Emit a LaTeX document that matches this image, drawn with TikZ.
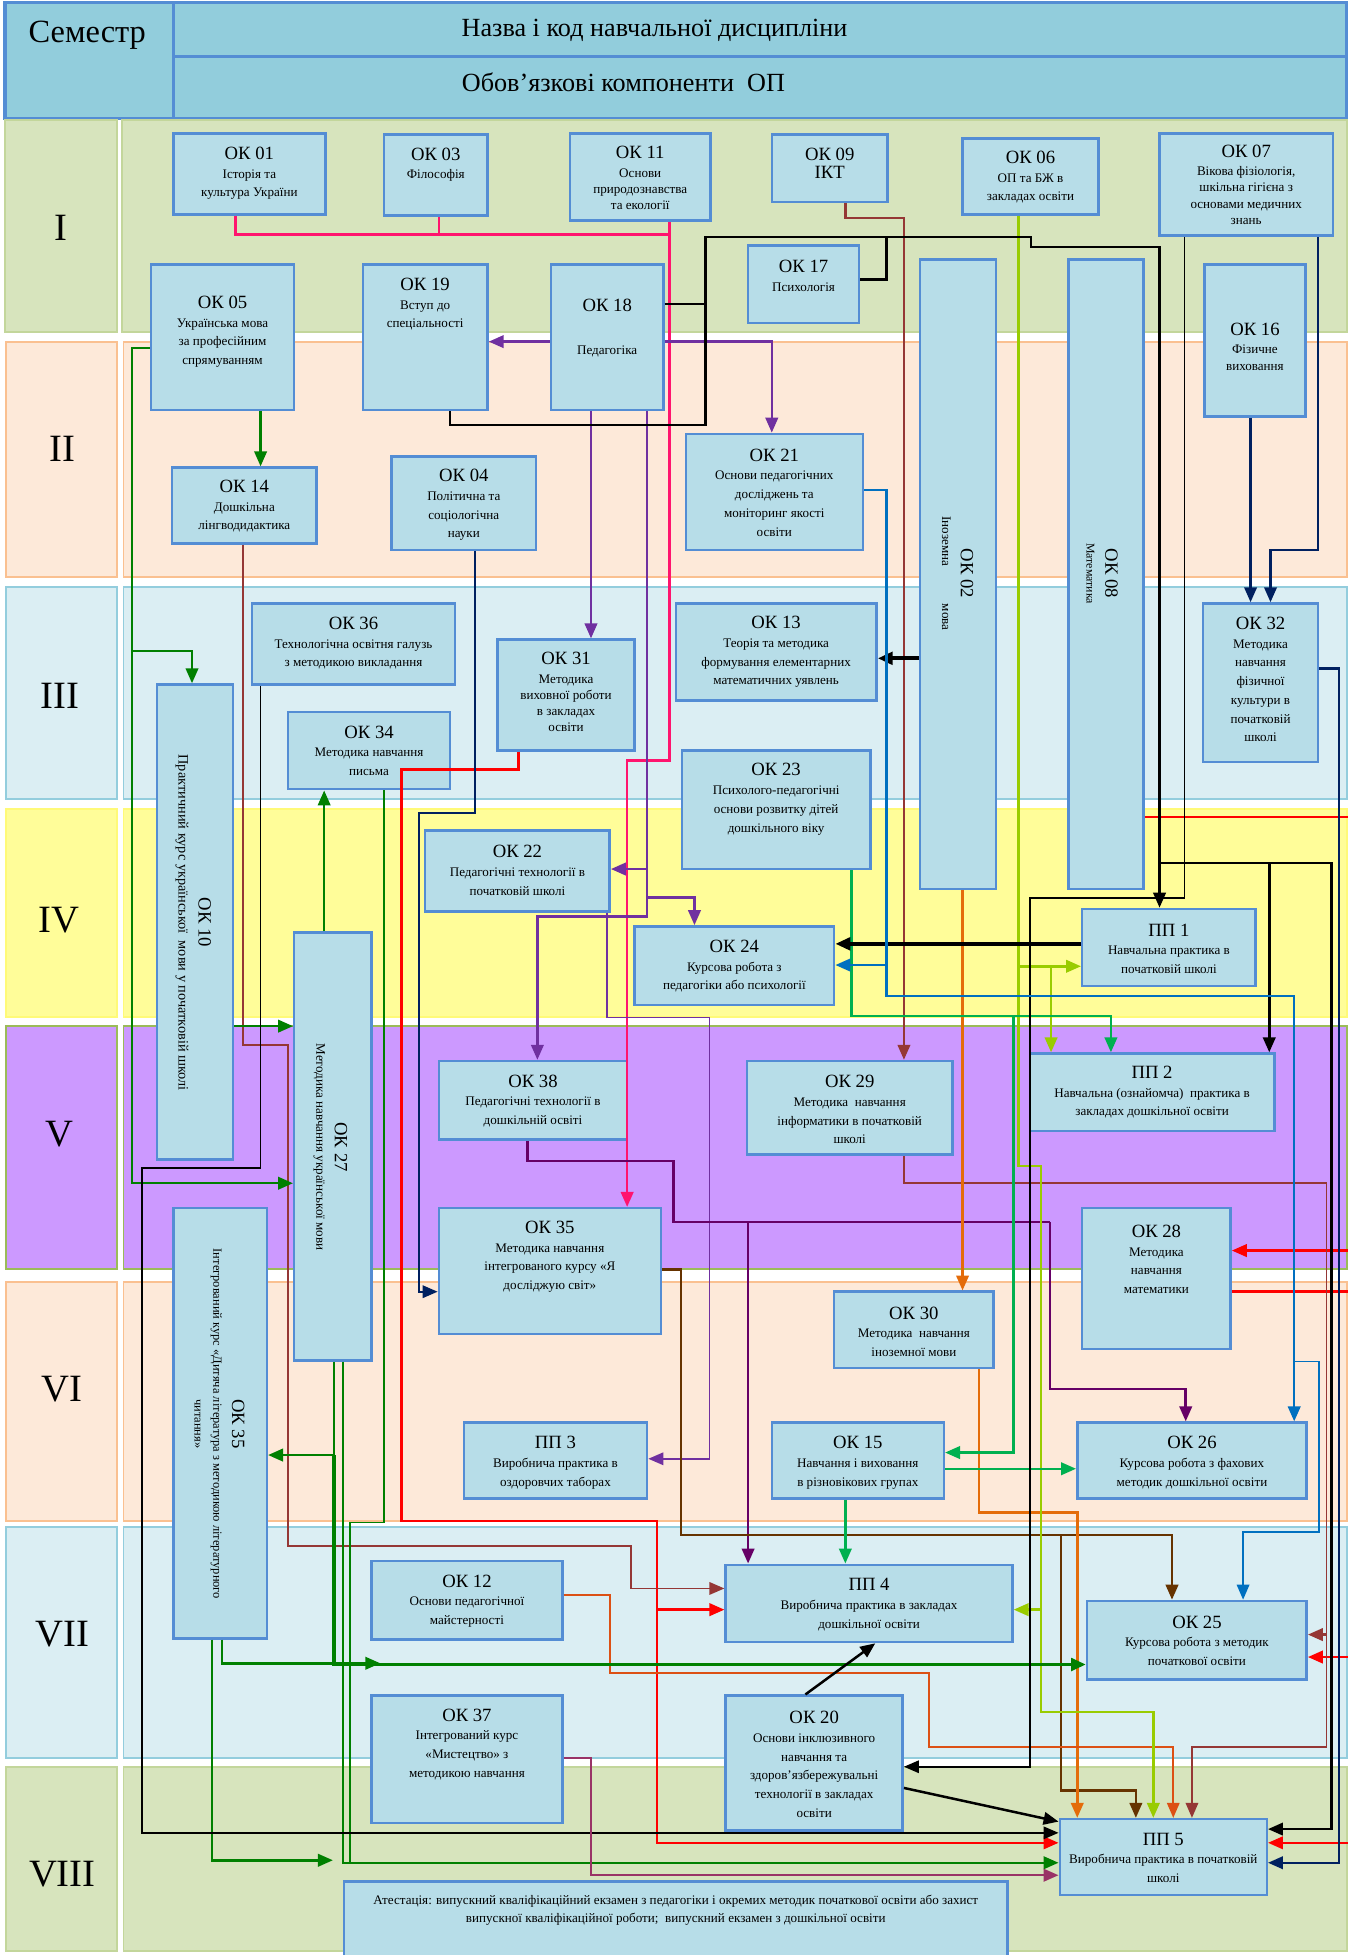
\documentclass[tikz,border=0pt]{standalone}
\usepackage{fontspec}
\setmainfont{Liberation Serif}
\usetikzlibrary{arrows.meta,fit}
\definecolor{boxfill}{RGB}{183,221,232}
\definecolor{boxline}{RGB}{84,141,212}
\definecolor{hdrfill}{RGB}{146,205,220}
\definecolor{bgI}{RGB}{215,228,189}\definecolor{bgIb}{RGB}{195,214,155}
\definecolor{bgII}{RGB}{253,233,217}\definecolor{bgIIb}{RGB}{250,192,144}
\definecolor{bgIII}{RGB}{219,238,243}\definecolor{bgIIIb}{RGB}{147,205,221}
\definecolor{bgIV}{RGB}{255,253,153}\definecolor{bgIVb}{RGB}{255,250,120}
\definecolor{bgV}{RGB}{204,153,255}\definecolor{bgVb}{RGB}{155,187,89}
\definecolor{cpink}{RGB}{255,20,110}
\definecolor{cred}{RGB}{255,0,0}
\definecolor{cpurp}{RGB}{112,48,160}
\definecolor{cdpurp}{RGB}{102,0,102}
\definecolor{cbrn}{RGB}{149,55,53}
\definecolor{cdbrn}{RGB}{102,51,0}
\definecolor{corng}{RGB}{228,108,10}
\definecolor{corred}{RGB}{220,80,20}
\definecolor{cygrn}{RGB}{153,204,0}
\definecolor{cgrn}{RGB}{0,176,80}
\definecolor{cdgrn}{RGB}{0,128,0}
\definecolor{cnavy}{RGB}{0,32,96}
\definecolor{cblu}{RGB}{0,112,192}
\definecolor{cplum}{RGB}{153,51,102}
\newcommand\hd[1]{{\fontsize{15}{17}\selectfont #1}}
\newcommand\bx[7]{\node[box, fit={(#2,#3) (#4,#5)}] (#1) {};\node[txt] (#1-t) at ({(#2+#4)/2},#6) {#7};}
\begin{document}
\begin{tikzpicture}[x=1pt,y=-1pt,
  box/.style={draw=boxline, fill=boxfill, line width=2pt, inner sep=0pt},
  txt/.style={font=\fontsize{10.5}{15}\selectfont, align=center, inner sep=0pt},
  sem/.style={font=\fontsize{31}{33}\selectfont, inner sep=0pt},
  c/.style={line width=2pt},
  c1/.style={line width=1.4pt},
  c3/.style={line width=3pt},
  >={Triangle[length=12pt,width=10pt]}]
\useasboundingbox (0,0) rectangle (1081,1568);
% header
\filldraw[fill=hdrfill, draw=boxline, line width=2.5pt] (4,2) rectangle (1080,95);
\draw[boxline, line width=2.5pt] (139,2) -- (139,95) (139,45) -- (1080,45);
\node[inner sep=0pt, font=\fontsize{26}{28}\selectfont] (hsem) at (70,28) {Семестр};
\node[inner sep=0pt, font=\fontsize{21}{23}\selectfont] (hname) at (525,24) {Назва і код навчальної дисципліни};
\node[inner sep=0pt, font=\fontsize{21}{23}\selectfont] (hcomp) at (500,66) {Обов’язкові компоненти\ \ ОП};
% bands
\tikzset{bandI/.style={fill=bgI, draw=bgIb, line width=1.5pt},
 bandII/.style={fill=bgII, draw=bgIIb, line width=1.5pt},
 bandIII/.style={fill=bgIII, draw=bgIIIb, line width=1.5pt},
 bandIV/.style={fill=bgIV, draw=bgIVb, line width=1.5pt},
 bandV/.style={fill=bgV, draw=bgVb, line width=1.5pt}}
\filldraw[bandI] (4,96) rectangle (94,266); \filldraw[bandI] (98,96) rectangle (1080,266);
\filldraw[bandII] (5,274) rectangle (94,463); \filldraw[bandII] (99,274) rectangle (1080,463);
\filldraw[bandIII] (5,471) rectangle (94,641); \filldraw[bandIII] (99,471) rectangle (1080,641);
\filldraw[bandIV] (5,649) rectangle (94,816); \filldraw[bandIV] (99,649) rectangle (1080,816);
\filldraw[bandV] (5,823) rectangle (94,1018); \filldraw[bandV] (99,823) rectangle (1080,1018);
\filldraw[bandII] (5,1028) rectangle (94,1220); \filldraw[bandII] (99,1028) rectangle (1080,1220);
\filldraw[bandIII] (5,1225) rectangle (94,1410); \filldraw[bandIII] (99,1225) rectangle (1080,1410);
\filldraw[bandI] (5,1417) rectangle (94,1565); \filldraw[bandI] (99,1417) rectangle (1080,1565);
\node[sem] (s1) at (49,183) {I};
\node[sem] (s2) at (50,360) {II};
\node[sem] (s3) at (48,558) {III};
\node[sem] (s4) at (47,738) {IV};
\node[sem] (s5) at (48,910) {V};
\node[sem] (s6) at (50,1114) {VI};
\node[sem] (s7) at (50,1311) {VII};
\node[sem] (s8) at (50,1503) {VIII};
% boxes
\bx{ok01}{139}{107}{261}{172}{139}{\hd{ОК 01}\\Історія та\\культура України}
\bx{ok03}{308}{108}{391}{173}{132}{\hd{ОК 03}\\Філософія}
\bx{ok11}{457}{107}{570}{177}{143}{\hd{ОК 11}\\Основи\\[-2pt]природознавства\\[-2pt]та екології}
\bx{ok09}{619}{108}{712}{162}{131}{\hd{ОК 09}\\\hd{ІКТ}}
\bx{ok06}{772}{111}{881}{172}{142}{\hd{ОК 06}\\ОП та БЖ в\\закладах освіти}
\bx{ok07}{930}{107}{1069}{189}{148}{\hd{ОК 07}\\Вікова фізіологія,\\[-2pt]шкільна гігієна з\\[-2pt]основами медичних\\[-2pt]знань}
\bx{ok17}{600}{197}{689}{259}{221}{\hd{ОК 17}\\Психологія}
\bx{ok05}{121}{212}{236}{329}{266}{\hd{ОК 05}\\Українська мова\\за професійним\\спрямуванням}
\bx{ok19}{291}{212}{391}{329}{244}{\hd{ОК 19}\\Вступ до\\спеціальності}
\bx{ok18}{442}{212}{532}{329}{263}{\hd{ОК 18}\\[19pt]Педагогіка}
\bx{ok16}{966}{212}{1047}{334}{278}{\hd{ОК 16}\\Фізичне\\[-2pt]виховання}
\bx{ok14}{138}{375}{254}{436}{406}{\hd{ОК 14}\\Дошкільна\\лінгводидактика}
\bx{ok04}{314}{366}{430}{441}{405}{\hd{ОК 04}\\Політична та\\соціологічна\\науки}
\bx{ok21}{550}{348}{692}{441}{395}{\hd{ОК 21}\\Основи педагогічних\\досліджень та\\моніторинг якості\\освіти}
\bx{ok36}{202}{484}{365}{549}{516}{\hd{ОК 36}\\Технологічна освітня галузь\\з методикою викладання}
\bx{ok31}{399}{513}{509}{602}{555}{\hd{ОК 31}\\Методика\\[-2pt]виховної роботи\\[-2pt]в закладах\\[-2pt]освіти}
\bx{ok13}{542}{484}{703}{562}{523}{\hd{ОК 13}\\Теорія та методика\\формування елементарних\\математичних уявлень}
\bx{ok32}{965}{484}{1057}{611}{545}{\hd{ОК 32}\\Методика\\навчання\\фізичної\\культури в\\початковій\\школі}
\bx{ok34}{231}{571}{361}{633}{602}{\hd{ОК 34}\\Методика навчання\\письма}
\bx{ok23}{547}{602}{698}{697}{641}{\hd{ОК 23}\\Психолого-педагогічні\\основи розвитку дітей\\дошкільного віку}
\bx{ok22}{341}{666}{489}{731}{698}{\hd{ОК 22}\\Педагогічні технології в\\початковій школі}
\bx{ok24}{509}{743}{669}{806}{775}{\hd{ОК 24}\\Курсова робота з\\педагогіки або психології}
\bx{pp1}{868}{729}{1007}{791}{761}{\hd{ПП 1}\\Навчальна практика в\\початковій школі}
\bx{ok38}{352}{851}{503}{914}{883}{\hd{ОК 38}\\Педагогічні технології в\\дошкільній освіті}
\bx{ok29}{599}{851}{764}{926}{890}{\hd{ОК 29}\\Методика\ \ навчання\\інформатики в початковій\\школі}
\bx{pp2}{826}{845}{1022}{907}{876}{\hd{ПП 2}\\Навчальна (ознайомча)\ \ практика в\\закладах дошкільної освіти}
\bx{ok35b}{352}{969}{530}{1070}{1008}{\hd{ОК 35}\\Методика навчання\\інтегрованого курсу «Я\\досліджую світ»}
\bx{ok28}{868}{969}{987}{1082}{1010}{\hd{ОК 28}\\Методика\\навчання\\математики}
\bx{ok30}{669}{1036}{797}{1097}{1068}{\hd{ОК 30}\\Методика\ \ навчання\\іноземної мови}
\bx{pp3}{372}{1141}{519}{1202}{1173}{\hd{ПП 3}\\Виробнича практика в\\оздоровчих таборах}
\bx{ok15}{619}{1141}{757}{1202}{1173}{\hd{ОК 15}\\Навчання і виховання\\в різновікових групах}
\bx{ok26}{864}{1141}{1048}{1202}{1173}{\hd{ОК 26}\\Курсова робота з фахових\\методик дошкільної освіти}
\bx{ok12}{298}{1252}{451}{1315}{1284}{\hd{ОК 12}\\Основи педагогічної\\майстерності}
\bx{pp4}{582}{1255}{812}{1317}{1287}{\hd{ПП 4}\\Виробнича практика в закладах\\дошкільної освіти}
\bx{ok25}{872}{1284}{1048}{1347}{1316}{\hd{ОК 25}\\Курсова робота з методик\\початкової освіти}
\bx{ok37}{298}{1360}{451}{1462}{1399}{\hd{ОК 37}\\Інтегрований курс\\«Мистецтво» з\\методикою навчання}
\bx{ok20}{582}{1360}{724}{1468}{1415}{\hd{ОК 20}\\Основи інклюзивного\\навчання та\\здоров'язбережувальні\\технології в закладах\\освіти}
\bx{pp5}{850}{1459}{1016}{1520}{1490}{\hd{ПП 5}\\Виробнича практика в початковій\\школі}
\bx{att}{276}{1509}{808}{1580}{1532}{Атестація: випускний кваліфікаційний екзамен з педагогіки і окремих методик початкової освіти або захист\\випускної кваліфікаційної роботи;\ \ випускний екзамен з дошкільної освіти}
% tall rotated boxes
\node[box, fit={(738,208) (799,713)}] (ok02) {};
\node[txt, rotate=-90] (ok02-t) at (768,460) {\hd{ОК 02}\\Іноземна\hspace{30pt}мова};
\node[box, fit={(857,208) (917,713)}] (ok08) {};
\node[txt, rotate=-90] (ok08-t) at (884,460) {\hd{ОК 08}\\{\fontsize{9.5}{12}\selectfont Математика}};
\node[box, fit={(126,549) (187,930)}] (ok10) {};
\node[txt, rotate=-90, font=\fontsize{11.5}{16}\selectfont] (ok10-t) at (155,740) {\hd{ОК 10}\\Практичний курс української\ \ мови у початковій школі};
\node[box, fit={(236,748) (298,1091)}] (ok27) {};
\node[txt, rotate=-90] (ok27-t) at (265,920) {\hd{ОК 27}\\Методика навчання української мови};
\node[box, fit={(139,969) (214,1314)}] (ok35a) {};
\node[txt, rotate=-90, font=\fontsize{10}{15}\selectfont] (ok35a-t) at (176,1142) {\hd{ОК 35}\\Інтегрований курс «Дитяча література з методикою літературного\\читання»};
% ---------------- connectors ----------------
% pink
\draw[c, cpink] (ok01.south -| 189,0) |- (537,188);
\draw[c, cpink] (ok03.south -| 352,0) -- (352,188);
\draw[c, cpink, ->] (ok11.south -| 537,0) -- (537,610) -| (ok35b.north -| 503,0);
% red
\draw[c, cred, ->] (ok31.south -| 416,0) -- (416,617) -| (322,1220) -| (527,1291) -- (pp4.west |- 0,1291);
\draw[c, cred, ->] (527,1291) -- (527,1478) -- (pp5.west |- 0,1478);
\draw[c1, cred] (ok08.east |- 0,655) -- (1081,655);
\coordinate (rin1) at (1081,1003);
\coordinate (rout1) at (1081,1036);
\coordinate (rin2) at (1081,1329);
\coordinate (rin3) at (1081,1478);
\draw[c, cred, ->] (rin1) -- (ok28.east |- rin1);
\draw[c, cred] (ok28.east |- rout1) -- (rout1);
\draw[c, cred, ->] (rin2) -- (ok25.east |- rin2);
\draw[c, cred, ->] (rin3) -- (pp5.east |- rin3);
% purple
\draw[c, cpurp, ->] (ok18.west |- 0,274) -- (ok19.east |- 0,274);
\draw[c, cpurp, ->] (ok18.east |- 0,274) -| (ok21.north -| 619,0);
\draw[c, cpurp, ->] (ok18.south -| 474,0) -- (ok31.north -| 474,0);
\draw[c, cpurp, ->] (ok18.south -| 519,0) |- (ok22.east |- 0,697);
\draw[c, cpurp, ->] (519,697) |- (557,720) -- (ok24.north -| 557,0);
\draw[c, cpurp, ->] (519,720) |- (431,735) -- (ok38.north -| 431,0);
\draw[c1, cpurp, ->] (ok22.south -| 487,0) |- (569,816) |- (pp3.east |- 0,1170);
% dark purple
\draw[c, cdpurp] (ok38.south -| 423,0) |- (540,931) |- (842,980);
\draw[c, cdpurp, ->] (600,980) -- (pp4.north -| 600,0);
\draw[c, cdpurp, ->] (842,980) |- (951,1114) -- (ok26.north -| 951,0);
% brown
\draw[c, cbrn, ->] (ok09.south -| 678,0) |- (725,175) -- (ok29.north -| 725,0);
\draw[c1, cbrn, ->] (ok29.south -| 725,0) |- (1064,949) |- (956,1401) -- (pp5.north -| 956,0);
\draw[c, cbrn, ->] (1064,1311) -- (ok25.east |- 0,1311);
\draw[c1, cbrn, ->] (ok14.south -| 195,0) |- (231,838) |- (506,1240) |- (pp4.west |- 0,1274);
% dark brown
\draw[c, cdbrn, ->] (ok35b.east |- 0,1018) -| (546,1231) -| (ok25.north -| 940,0);
\draw[c, cdbrn, ->] (851,1231) |- (911,1436) -- (pp5.north -| 911,0);
% orange
\draw[c, corng, ->] (ok02.south -| 772,0) -- (ok30.north -| 772,0);
\draw[c, corng, ->] (ok30.south -| 785,0) |- (864,1213) -- (pp5.north -| 864,0);
\draw[c1, corred, ->] (ok12.east |- 0,1279) -| (489,1342) -| (745,1401) -| (pp5.north -| 941,0);
% yellow-green
\draw[c, cygrn, ->] (ok06.south -| 817,0) |- (835,935) |- (925,1373) -- (pp5.north -| 925,0);
\draw[c, cygrn, ->] (817,775) -- (pp1.west |- 0,775);
\draw[c, cygrn, ->] (843,775) -- (pp2.north -| 843,0);
\draw[c, cygrn, ->] (835,1291) -- (pp4.east |- 0,1291);
% green
\draw[c, cgrn, ->] (ok23.south -| 683,0) |- (891,815) -- (pp2.north -| 891,0);
\draw[c, cgrn, ->] (813,815) |- (ok15.east |- 0,1165);
\draw[c, cgrn, ->] (ok15.east |- 0,1178) -- (ok26.west |- 0,1178);
\draw[c, cgrn, ->] (ok15.south -| 678,0) -- (pp4.north -| 678,0);
% dark green
\draw[c, cdgrn, ->] (ok05.south -| 209,0) -- (ok14.north -| 209,0);
\draw[c, cdgrn, ->] (ok05.west |- 0,279) -| (106,522) -| (ok10.north -| 154,0);
\draw[c, cdgrn, ->] (106,522) |- (ok27.west |- 0,949);
\draw[c, cdgrn, ->] (ok10.east |- 0,823) -- (ok27.west |- 0,823);
\draw[c, cdgrn, ->] (ok27.north -| 260,0) -- (ok34.south -| 260,0);
\draw[c1, cdgrn] (ok34.south -| 308,0) |- (281,1221) -- (281,1494);
\draw[c, cdgrn, ->] (ok27.south -| 268,0) |- (ok35a.east |- 0,1167);
\draw[c3, cdgrn, ->] (268,1167) |- (ok25.west |- 0,1335);
\draw[c, cdgrn, ->] (ok27.south -| 275,0) |- (pp5.west |- 0,1494);
\draw[c, cdgrn, ->] (ok35a.south -| 178,0) |- (305,1334);
\draw[c, cdgrn, ->] (ok35a.south -| 170,0) |- (267,1492);
% black
\draw[c, black] (ok18.east |- 0,244) -- (566,244);
\draw[c, black, ->] (ok19.south -| 361,0) |- (566,341) |- (827,190) |- (930,198) -- (pp1.north -| 930,0);
\draw[c, black] (ok17.east |- 0,224) -| (711,190);
\draw[c, black, ->] (930,692) -| (pp2.north -| 1018,0);
\draw[c, black, ->] (1018,692) -| (1068,1467) -- (pp5.east |- 0,1467);
\draw[c1, black, ->] (ok07.south -| 950,0) |- (826,720) |- (ok20.east |- 0,1417);
\draw[c3, black, ->] (ok02.west |- 0,528) -- (ok13.east |- 0,528);
\draw[c3, black, ->] (pp1.west |- 0,757) -- (ok24.east |- 0,757);
\draw[c1, black, ->] (ok36.south -| 209,0) |- (114,937) |- (pp5.west |- 0,1470);
\draw[c, black, ->] (ok20.east |- 0,1434) -- (pp5.west |- 0,1461);
\draw[c, black, ->] (ok20.north -| 646,0) -- (pp4.south -| 702,0);
% navy
\draw[c1, cnavy, ->] (ok04.south -| 381,0) |- (336,652) |- (ok35b.west |- 0,1036);
\draw[c, cnavy, ->] (ok16.south -| 1003,0) -- (ok32.north -| 1003,0);
\draw[c, cnavy, ->] (ok07.south -| 1057,0) |- (1019,441) -- (ok32.north -| 1019,0);
\draw[c, cnavy, ->] (ok32.east |- 0,536) -| (1074,1494) -- (pp5.east |- 0,1494);
% blue
\draw[c, cblu, ->] (ok21.east |- 0,393) -| (711,799) -| (ok26.north -| 1038,0);
\draw[c, cblu, ->] (711,774) -- (ok24.east |- 0,774);
\draw[c1, cblu, ->] (1038,1092) -| (1058,1229) -| (ok25.north -| 997,0);
% plum
\draw[c, cplum, ->] (ok37.east |- 0,1410) -| (474,1504) -- (pp5.west |- 0,1504);
\end{tikzpicture}
\end{document}
